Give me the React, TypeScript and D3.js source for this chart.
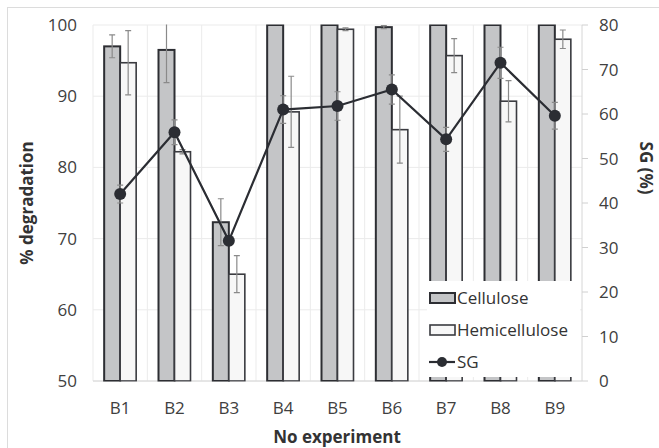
import React from "react";
import * as d3 from "d3";

const experiments = ["B1", "B2", "B3", "B4", "B5", "B6", "B7", "B8", "B9"];
const cellulose = [97.0, 96.5, 72.3, 100, 100, 99.7, 100, 100, 100];
const celluloseErr = [1.6, 4.6, 3.3, 0, 0, 0.2, 0, 0, 0];
const hemicellulose = [94.7, 82.2, 65.0, 87.8, 99.4, 85.3, 95.7, 89.3, 98.0];
const hemicelluloseErr = [4.5, 0.3, 2.6, 5.0, 0.2, 4.7, 2.4, 2.9, 1.3];
const sg = [42.0, 55.9, 31.5, 61.0, 61.8, 65.5, 54.3, 71.5, 59.6];
const sgErr = [2.0, 2.8, 1.0, 3.1, 3.2, 3.3, 2.7, 3.5, 3.0];
const leftTicks = [50, 60, 70, 80, 90, 100];
const rightTicks = [0, 10, 20, 30, 40, 50, 60, 70, 80];

const W = 659;
const H = 448;
const plot = { left: 93, right: 582, top: 25, bottom: 381 };
const barW = 16;
const font = "'Open Sans', 'Noto Sans', sans-serif";

export default function App() {
  const x = d3
    .scaleBand<string>()
    .domain(experiments)
    .range([plot.left, plot.right])
    .padding(0);
  const yL = d3.scaleLinear().domain([50, 100]).range([plot.bottom, plot.top]);
  const yR = d3.scaleLinear().domain([0, 80]).range([plot.bottom, plot.top]);
  const cx = (c: string) => (x(c) as number) + x.bandwidth() / 2;

  const line = d3
    .line<number>()
    .x((_, i) => cx(experiments[i]))
    .y((v) => yR(v));

  const errBar = (xc: number, y1: number, y2: number, key: string) => (
    <g key={key} stroke="#8a8a8a" strokeWidth={1.2}>
      <line x1={xc} x2={xc} y1={y1} y2={y2} />
      <line x1={xc - 3} x2={xc + 3} y1={y1} y2={y1} />
      <line x1={xc - 3} x2={xc + 3} y1={y2} y2={y2} />
    </g>
  );

  return (
    <svg
      width={W}
      height={H}
      style={{ position: "absolute", left: 0, top: 0, background: "#fff" }}
      fontFamily={font}
    >
      <defs>
        <clipPath id="plotClip">
          <rect
            x={plot.left}
            y={plot.top - 0.5}
            width={plot.right - plot.left}
            height={plot.bottom - plot.top + 1}
          />
        </clipPath>
      </defs>
      <rect x={7.5} y={7.5} width={W} height={H} fill="none" stroke="#dcdcdc" />

      {/* grid */}
      <g stroke="#ebebeb" strokeWidth={1}>
        {leftTicks.map((t) => (
          <line key={"h" + t} x1={plot.left} x2={plot.right} y1={yL(t)} y2={yL(t)} />
        ))}
        {experiments.map((c) => (
          <line
            key={"v" + c}
            x1={x(c) as number}
            x2={x(c) as number}
            y1={plot.top}
            y2={plot.bottom}
          />
        ))}
      </g>
      <line x1={plot.left} x2={plot.right} y1={plot.bottom} y2={plot.bottom} stroke="#d6d6d6" />
      <line x1={plot.right} x2={plot.right} y1={plot.top} y2={plot.bottom} stroke="#d6d6d6" />
      <g stroke="#d0d0d0">
        {rightTicks.map((t) => (
          <line key={"rt" + t} x1={plot.right} x2={plot.right + 6} y1={yR(t)} y2={yR(t)} />
        ))}
      </g>

      <g clipPath="url(#plotClip)">
        {experiments.map((c, i) => (
          <g key={"b" + c}>
            <rect
              x={cx(c) - barW}
              y={yL(cellulose[i])}
              width={barW}
              height={plot.bottom - yL(cellulose[i])}
              fill="#c4c5c7"
              stroke="#2d2e33"
              strokeWidth={2}
            />
            <rect
              x={cx(c)}
              y={yL(hemicellulose[i])}
              width={barW}
              height={plot.bottom - yL(hemicellulose[i])}
              fill="#f7f7f7"
              stroke="#3a3b40"
              strokeWidth={1.6}
            />
          </g>
        ))}
        {experiments.map((c, i) =>
          celluloseErr[i] > 0
            ? errBar(
                cx(c) - barW / 2,
                yL(cellulose[i] + celluloseErr[i]),
                yL(cellulose[i] - celluloseErr[i]),
                "ce" + c
              )
            : null
        )}
        {experiments.map((c, i) =>
          errBar(
            cx(c) + barW / 2,
            yL(hemicellulose[i] + hemicelluloseErr[i]),
            yL(hemicellulose[i] - hemicelluloseErr[i]),
            "he" + c
          )
        )}
        {experiments.map((c, i) =>
          errBar(cx(c), yR(sg[i] + sgErr[i]), yR(sg[i] - sgErr[i]), "se" + c)
        )}
        <path d={line(sg) as string} fill="none" stroke="#2b2d33" strokeWidth={2.2} />
        {experiments.map((c, i) => (
          <circle key={"m" + c} cx={cx(c)} cy={yR(sg[i])} r={6} fill="#2b2d33" />
        ))}
      </g>

      {/* left axis labels */}
      <g fontSize={17} fill="#404040" textAnchor="end">
        {leftTicks.map((t) => (
          <text key={"lt" + t} x={77} y={yL(t) + 6}>
            {t}
          </text>
        ))}
      </g>
      {/* right axis labels */}
      <g fontSize={17} fill="#404040" textAnchor="start">
        {rightTicks.map((t) => (
          <text key={"rl" + t} x={599} y={yR(t) + 6}>
            {t}
          </text>
        ))}
      </g>
      {/* category labels */}
      <g fontSize={17} fill="#404040" textAnchor="middle">
        {experiments.map((c) => (
          <text key={"cl" + c} x={cx(c)} y={414}>
            {c}
          </text>
        ))}
      </g>

      <text x={337} y={443} fontSize={17} fontWeight="bold" fill="#333" textAnchor="middle">
        No experiment
      </text>
      <text
        transform="translate(33,203) rotate(-90)"
        fontSize={17}
        fontWeight="bold"
        fill="#333"
        textAnchor="middle"
      >
        % degradation
      </text>
      <text
        transform="translate(640,168) rotate(90)"
        fontSize={17}
        fontWeight="bold"
        fill="#333"
        textAnchor="middle"
      >
        SG (%)
      </text>

      {/* legend */}
      <g>
        <rect x={427} y={281} width={153} height={96} fill="#fff" />
        <rect x={430} y={293} width={25} height={10} fill="#c4c5c7" stroke="#2d2e33" strokeWidth={2} />
        <text x={457} y={304} fontSize={17} fill="#333">
          Cellulose
        </text>
        <rect x={430} y={325} width={25} height={10} fill="#f7f7f7" stroke="#3a3b40" strokeWidth={1.6} />
        <text x={457} y={336} fontSize={17} fill="#333">
          Hemicellulose
        </text>
        <line x1={429} x2={455} y1={362} y2={362} stroke="#2b2d33" strokeWidth={2.2} />
        <circle cx={442} cy={362} r={5} fill="#2b2d33" />
        <text x={457} y={368} fontSize={17} fill="#333">
          SG
        </text>
      </g>
    </svg>
  );
}
